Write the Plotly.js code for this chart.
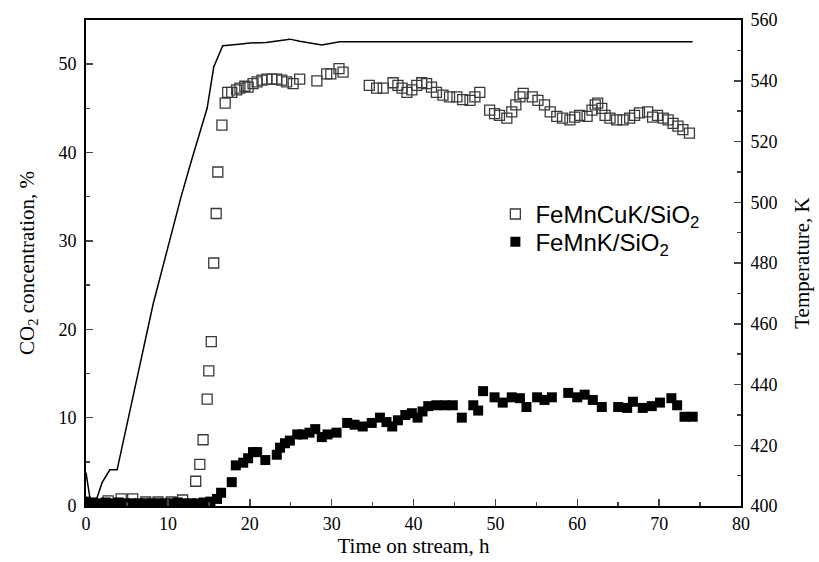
<!DOCTYPE html>
<html>
<head>
<meta charset="utf-8">
<script src="https://cdn.plot.ly/plotly-3.0.1.min.js"></script>
<style>html,body{margin:0;padding:0;background:#fff;}#chart{width:819px;height:562px;}</style>
</head>
<body>
<div id="chart"></div>
<script>
// FeMnCuK/SiO2 (open squares)
const cuTime = [2.7,4.3,5.7,7.3,8.8,10.4,11.8,13.4,13.9,14.3,14.8,15.0,15.3,15.6,15.9,16.1,16.6,17.0,17.3,17.8,18.4,18.8,19.4,19.8,20.4,20.9,21.5,22.1,22.7,23.3,23.9,24.5,25.3,26.1,28.2,29.4,29.9,30.9,31.4,34.6,35.5,36.3,37.5,38.1,38.6,39.2,39.8,40.4,41.0,41.6,42.2,42.8,43.6,44.4,45.3,46.0,46.9,47.5,48.1,49.3,49.9,50.5,51.4,52.0,52.5,53.0,53.4,54.5,55.2,56.0,56.7,57.5,58.2,59.1,59.7,60.3,61.2,61.8,62.2,62.5,63.0,63.4,64.0,64.8,65.6,66.4,67.0,67.6,68.6,69.2,69.8,70.5,71.1,71.7,72.3,72.9,73.7];
const cuCO2 = [0.57,0.8,0.8,0.45,0.45,0.45,0.68,2.8,4.7,7.5,12.1,15.3,18.6,27.5,33.1,37.8,43.1,45.6,46.8,46.8,47.1,47.3,47.5,47.4,47.8,48.0,48.2,48.3,48.3,48.3,48.2,48.0,47.8,48.3,48.1,48.9,48.9,49.5,49.1,47.6,47.3,47.3,47.9,47.6,47.3,46.8,47.1,47.6,47.9,47.8,47.4,46.8,46.5,46.3,46.3,46.0,45.9,46.3,46.8,44.8,44.4,44.2,43.9,44.6,45.4,46.3,46.7,46.3,45.9,45.4,44.6,44.1,43.9,43.7,44.0,44.2,44.1,44.8,45.4,45.6,45.0,44.2,43.9,43.7,43.7,43.9,44.2,44.5,44.6,44.0,44.2,43.9,43.7,43.3,43.0,42.6,42.2];

// FeMnK/SiO2 (filled squares)
const kTime = [0,0.8,1.6,2.4,3.2,4.0,4.8,5.6,6.4,7.2,8.0,8.8,9.6,10.4,11.2,12.0,12.8,13.6,14.4,15.2,16.0,16.5,17.8,18.3,19.2,19.8,20.4,20.9,21.9,23.3,23.7,24.3,24.9,25.8,26.5,27.3,28.0,28.8,29.5,30.6,31.9,32.8,33.8,34.9,35.9,36.7,37.4,38.1,39.0,39.8,40.5,41.1,41.8,42.8,43.8,44.8,45.9,47.3,47.9,48.5,49.9,50.9,52.0,53.0,53.8,55.1,56.0,56.9,58.9,60.0,60.9,61.9,63.0,65.0,66.1,66.8,68.0,69.1,70.1,71.5,72.2,73.1,74.1];
const kCO2 = [0.5,0.4,0.3,0.4,0.3,0.4,0.3,0.3,0.3,0.3,0.3,0.3,0.3,0.3,0.4,0.3,0.3,0.3,0.4,0.5,0.8,1.5,2.7,4.6,4.9,5.4,6.1,6.1,5.2,5.8,6.6,7.1,7.4,8.1,8.1,8.3,8.7,7.8,8.1,8.3,9.4,9.2,9.0,9.4,10.0,9.5,9.0,9.7,10.3,10.5,10.0,10.7,11.3,11.4,11.4,11.4,10.0,11.4,10.8,13.0,12.3,11.7,12.3,12.2,11.2,12.3,12.0,12.3,12.8,12.3,12.6,12.0,11.2,11.2,11.1,11.8,11.1,11.3,11.7,12.2,11.4,10.1,10.1];

// Temperature (line, right axis)
const tempTime = [0,0.5,1.3,1.95,2.9,3.8,8.2,9.5,11.6,12.9,14.8,15.6,16.7,19.0,20.0,22.0,24.9,26.1,28.8,31.0,74.1];
const tempK = [411,402.3,402.3,407.6,411.9,411.9,466.5,480,501.7,513.9,531,544.5,551.5,552.1,552.4,552.6,553.7,553,551.8,552.8,552.8];

const serif = "Liberation Serif";
const sans = "Liberation Sans";

const traces = [
  {x: tempTime, y: tempK, yaxis: 'y2', mode: 'lines', type: 'scatter',
   line: {color: '#000', width: 1.5}, showlegend: false, hoverinfo: 'skip'},
  {x: cuTime, y: cuCO2, mode: 'markers', type: 'scatter', name: 'FeMnCuK/SiO<sub>2</sub>', legend: 'legend',
   marker: {symbol: 'square-open', size: 10, color: '#3a3a3a', line: {width: 1.3}}},
  {x: kTime, y: kCO2, mode: 'markers', type: 'scatter', name: 'FeMnK/SiO<sub>2</sub>', legend: 'legend2',
   marker: {symbol: 'square', size: 10, color: '#000'}}
];

const legendBase = {xanchor: 'left', yanchor: 'middle', bgcolor: 'rgba(0,0,0,0)',
  font: {family: sans, size: 24, color: '#000'}, borderwidth: 0};

const layout = {
  width: 819, height: 562,
  margin: {l: 86, r: 78, t: 20, b: 56, pad: 0},
  paper_bgcolor: '#fff', plot_bgcolor: '#fff',
  showlegend: true,
  legend: Object.assign({}, legendBase, {x: 0.625, y: 0.600}),
  legend2: Object.assign({}, legendBase, {x: 0.625, y: 0.543}),
  xaxis: {range: [0, 80], dtick: 10, tick0: 0, ticks: 'inside', ticklen: 7, tickwidth: 1.5,
          minor: {dtick: 5, ticks: 'inside', ticklen: 4, tickwidth: 1.5},
          showline: true, linewidth: 2, linecolor: '#000', mirror: true, showgrid: false, zeroline: false,
          tickfont: {family: serif, size: 18, color: '#000'},
          title: {text: 'Time on stream, h', font: {family: serif, size: 21, color: '#000'}, standoff: 6}},
  yaxis: {range: [0, 55], dtick: 10, tick0: 0, ticks: 'inside', ticklen: 7, tickwidth: 1.5,
          minor: {dtick: 5, ticks: 'inside', ticklen: 4, tickwidth: 1.5},
          showline: true, linewidth: 2, linecolor: '#000', showgrid: false, zeroline: false,
          tickfont: {family: serif, size: 18, color: '#000'}, ticklabelstandoff: 4,
          title: {text: 'CO<sub>2</sub> concentration, %', font: {family: serif, size: 21, color: '#000'}, standoff: 18}},
  yaxis2: {range: [400, 560], dtick: 20, tick0: 400, overlaying: 'y', side: 'right',
           ticks: 'inside', ticklen: 7, tickwidth: 1.5,
           minor: {dtick: 10, ticks: 'inside', ticklen: 4, tickwidth: 1.5},
           showline: true, linewidth: 2, linecolor: '#000', showgrid: false, zeroline: false,
           tickfont: {family: serif, size: 18, color: '#000'}, ticklabelstandoff: 4,
           title: {text: 'Temperature, K', font: {family: serif, size: 21, color: '#000'}, standoff: 18}}
};

Plotly.newPlot('chart', traces, layout, {staticPlot: true, displayModeBar: false});
</script>
</body>
</html>
